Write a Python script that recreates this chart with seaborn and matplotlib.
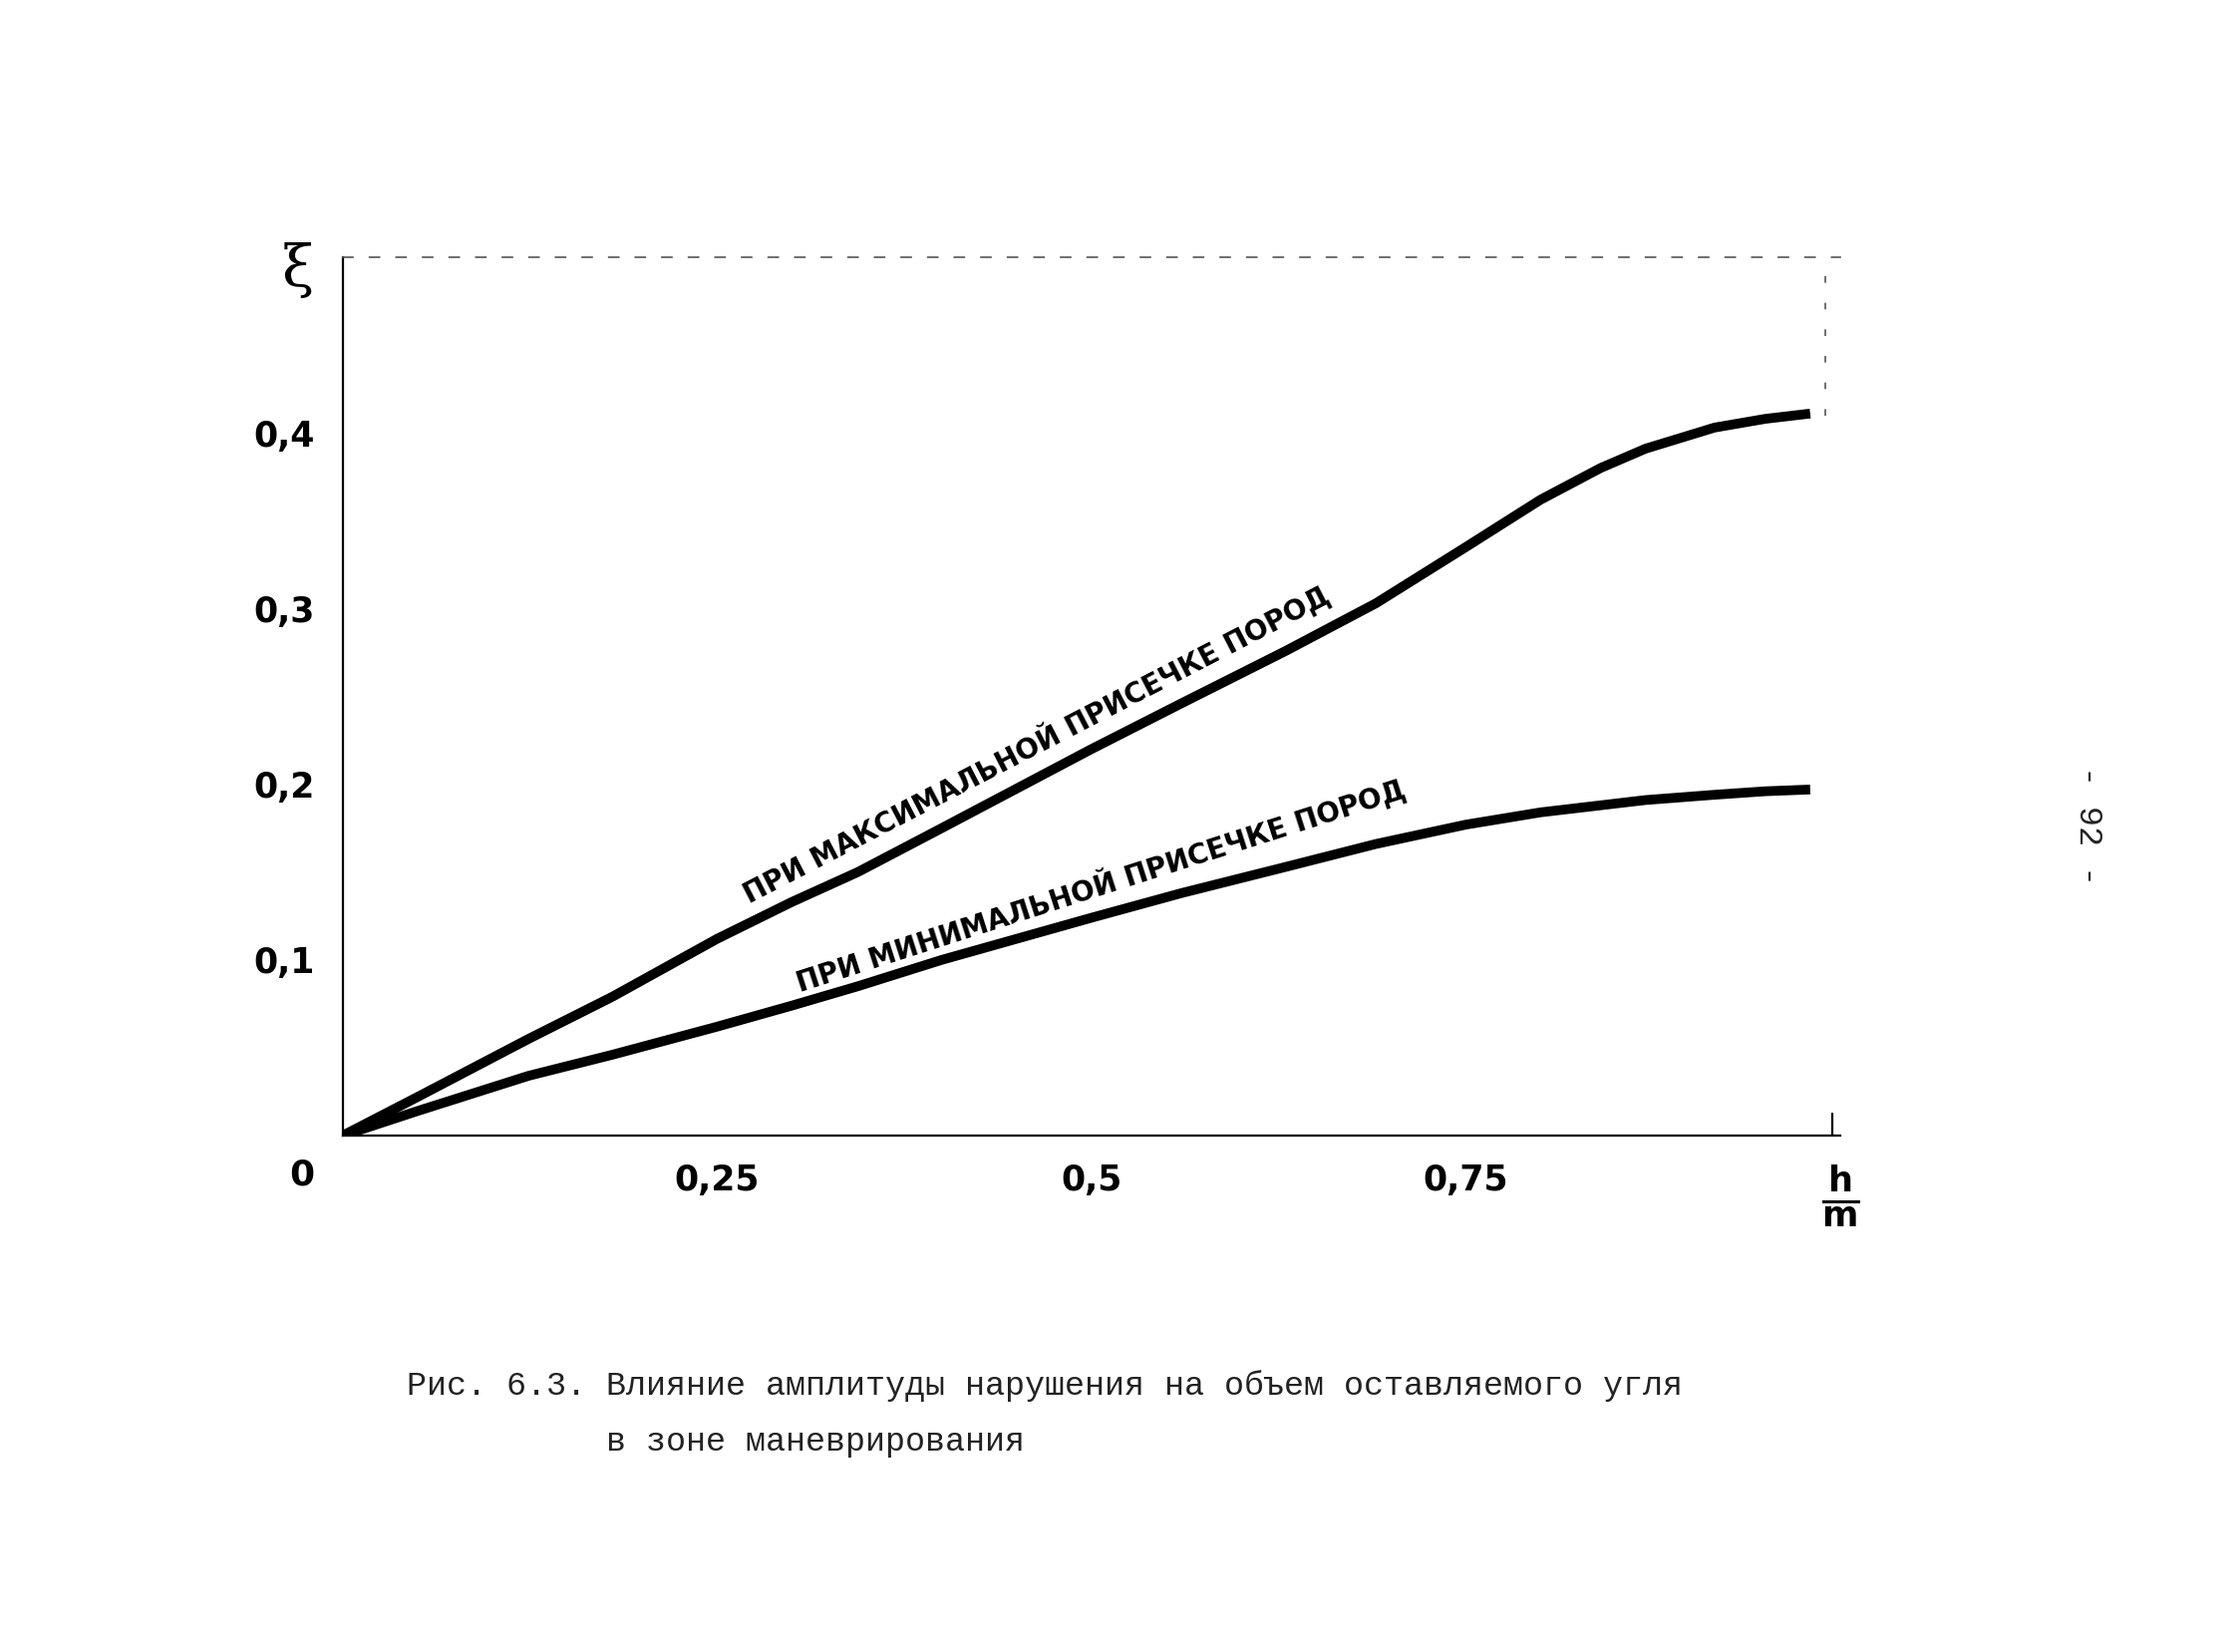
import numpy as np
import pandas as pd
import matplotlib
matplotlib.use("Agg")
import matplotlib.pyplot as plt
import seaborn as sns

# --- DATA ---
h_m = [0.0, 0.05, 0.124, 0.18, 0.25, 0.30, 0.344, 0.40, 0.5, 0.56, 0.63, 0.69,
       0.75, 0.80, 0.84, 0.87, 0.916, 0.95, 0.98]
xi_max = [0.0, 0.022, 0.055, 0.079, 0.112, 0.133, 0.150, 0.175, 0.220, 0.246, 0.276, 0.303,
          0.335, 0.362, 0.380, 0.391, 0.403, 0.408, 0.411]
xi_min = [0.0, 0.014, 0.034, 0.046, 0.062, 0.074, 0.085, 0.100, 0.124, 0.138, 0.153, 0.166,
          0.177, 0.184, 0.188, 0.191, 0.194, 0.196, 0.197]

x_ticks = [0.25, 0.5, 0.75]
x_tick_labels = ["0,25", "0,5", "0,75"]
y_ticks = [0.1, 0.2, 0.3, 0.4]
y_tick_labels = ["0,1", "0,2", "0,3", "0,4"]

label_max = "ПРИ МАКСИМАЛЬНОЙ ПРИСЕЧКЕ ПОРОД"
label_min = "ПРИ МИНИМАЛЬНОЙ ПРИСЕЧКЕ ПОРОД"
caption_1 = "Рис. 6.3. Влияние амплитуды нарушения на объем оставляемого угля"
caption_2 = "          в зоне маневрирования"
page_no = "- 92 -"

sns.set_style("white")
plt.rcParams["font.family"] = ["DejaVu Sans"]
plt.rcParams["text.color"] = "black"
plt.rcParams["xtick.color"] = "black"
plt.rcParams["ytick.color"] = "black"

MONO = ["Liberation Mono", "DejaVu Sans Mono"]

df = pd.DataFrame({
    "h_m": h_m * 2,
    "xi": xi_max + xi_min,
    "case": ["max"] * len(h_m) + ["min"] * len(h_m),
})

fig = plt.figure(figsize=(22.47, 16.57), dpi=100)
ax = fig.add_axes([0.153, 0.3126, 0.6685, 0.5317])

sns.lineplot(data=df, x="h_m", y="xi", units="case", estimator=None,
             color="black", linewidth=7, solid_capstyle="butt",
             solid_joinstyle="round", ax=ax, legend=False)

ax.set_xlim(0, 1.0)
ax.set_ylim(0, 0.5)
ax.set_xlabel("")
ax.set_ylabel("")

ax.set_xticks(x_ticks + [1.0])
ax.set_xticklabels(x_tick_labels + [r"$\mathbf{\frac{h}{m}}$"])
ax.set_yticks(y_ticks)
ax.set_yticklabels(y_tick_labels)
ax.tick_params(axis="both", length=0, labelsize=25, pad=20)
for t in ax.get_xticklabels() + ax.get_yticklabels():
    t.set_fontweight("bold")
ax.get_xticklabels()[-1].set_fontsize(36)

# frame: solid left/bottom, faint dashed top/right as on the scan
for side in ["left", "bottom"]:
    ax.spines[side].set_color("black")
    ax.spines[side].set_linewidth(1.6)
ax.spines["right"].set_visible(False)
ax.spines["top"].set_linestyle((0, (6, 10)))
ax.spines["top"].set_linewidth(1.2)
ax.spines["top"].set_color("#555555")
ax.axvline(0.99, ymin=0.82, ymax=1.0, color="#555555", lw=1.2, ls=(0, (4, 12)))
ax.axvline(0.995, ymin=0.0, ymax=0.025, color="black", lw=1.6)

ax.text(-0.03, 0.985, "ξ", transform=ax.transAxes, fontsize=42,
        ha="center", va="center", family=["DejaVu Serif"])
ax.text(-0.027, -0.045, "0", transform=ax.transAxes, fontsize=26,
        ha="center", va="center", fontweight="bold")

# curve labels along the lines
ax.text(0.463, 0.223, label_max, rotation=27.4, rotation_mode="anchor",
        ha="center", va="center", fontsize=20, fontweight="bold")
ax.text(0.506, 0.143, label_min, rotation=17.8, rotation_mode="anchor",
        ha="center", va="center", fontsize=20, fontweight="bold")

# caption and page number
fig.text(408 / 2247, 1 - 1390 / 1657, caption_1, fontsize=24, family=MONO,
         color="#222222", ha="left", va="center")
fig.text(408 / 2247, 1 - 1447 / 1657, caption_2, fontsize=24, family=MONO,
         color="#222222", ha="left", va="center")
fig.text(2095 / 2247, 1 - 828 / 1657, page_no, fontsize=24, family=MONO,
         rotation=-90, ha="center", va="center", color="#222222")

fig.savefig("out.png", dpi=100, facecolor="white")
